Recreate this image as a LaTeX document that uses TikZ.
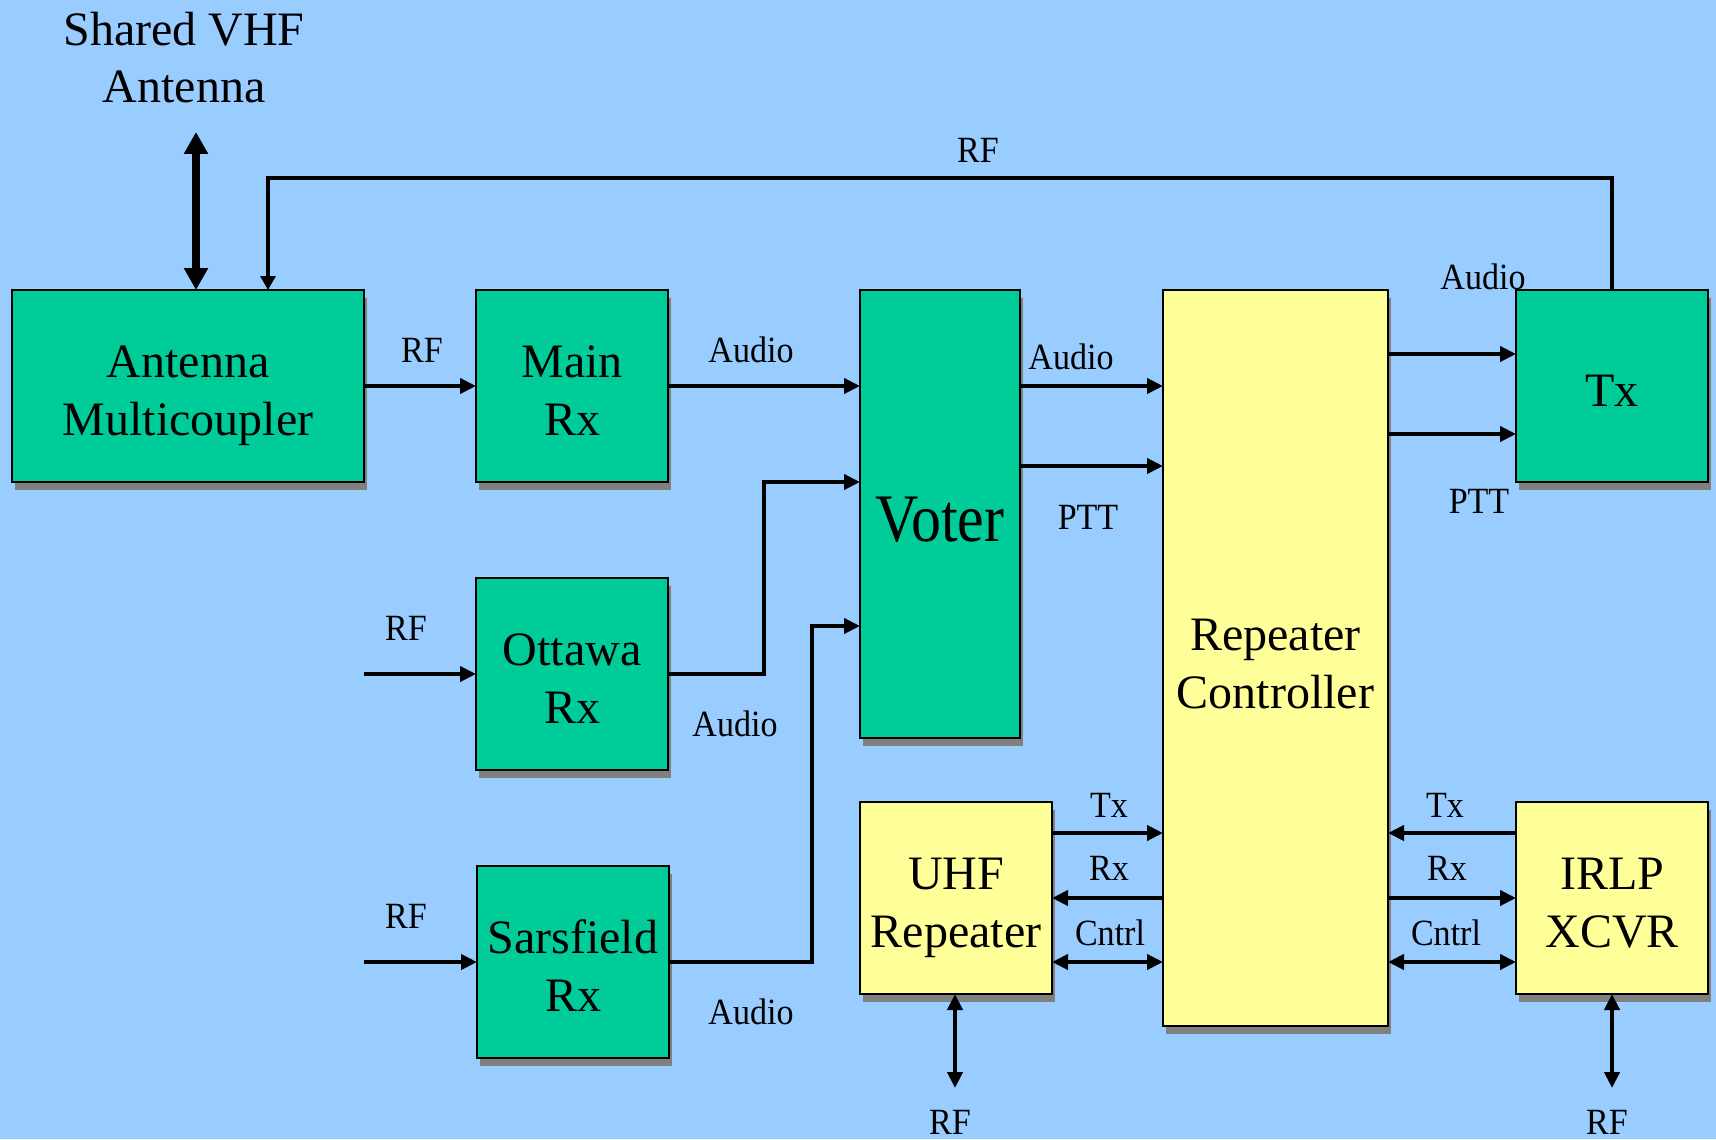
\documentclass[tikz,border=0pt]{standalone}
\usepackage{fontspec}
\setmainfont{Liberation Serif}
\newfontfamily\lblfont[FakeStretch=0.92]{Liberation Serif}
\newfontfamily\voterfont[FakeStretch=0.88]{Liberation Serif}
\usetikzlibrary{arrows.meta,shadows}
\definecolor{bgblue}{HTML}{99CCFF}
\definecolor{boxgreen}{HTML}{00CC99}
\definecolor{boxyellow}{HTML}{FFFF99}
\definecolor{shadowgray}{HTML}{808080}
\newcommand\boxtext[2][4.4pt]{\raisebox{-#1}[\height][\depth]{\begin{tabular}{@{}c@{}}#2\end{tabular}}}
\newcommand\lowtext[2]{\raisebox{-#1}[\height][\depth]{#2}}
\tikzset{
  box/.style={draw=black, line width=1.3pt, inner sep=0pt, outer sep=0pt,
    font=\fontsize{24}{29}\selectfont,
    drop shadow={shadow xshift=1.6pt, shadow yshift=-4pt, fill=shadowgray, opacity=1}},
  gbox/.style={box, fill=boxgreen},
  ybox/.style={box, fill=boxyellow},
  sq/.style={minimum width=96pt, minimum height=96pt},
  conn/.style={line width=2.2pt, -{Triangle[length=8pt,width=7.5pt]}},
  bconn/.style={line width=2.2pt, {Triangle[length=8pt,width=7.5pt]}-{Triangle[length=8pt,width=7.5pt]}},
  lbl/.style={font=\lblfont\fontsize{18.5}{20}\selectfont, inner sep=0pt},
}
\begin{document}
\begin{tikzpicture}[x=0.5pt, y=-0.5pt]
\fill[bgblue] (0,0) rectangle (1716,1139);
\useasboundingbox (0,0) rectangle (1716,1139);

% boxes
\node[gbox, minimum width=176pt, minimum height=96pt] (amc) at (188,386) {\boxtext{Antenna\\Multicoupler}};
\node[gbox, sq] (mainrx) at (572,386) {\boxtext{Main\\Rx}};
\node[gbox, sq] (ottawa) at (572,674) {\boxtext{Ottawa\\Rx}};
\node[gbox, sq] (sars) at (573,962) {\boxtext{Sarsfield\\Rx}};
\node[gbox, minimum width=80pt, minimum height=224pt, font=\voterfont\fontsize{34}{40}\selectfont] (voter) at (940,514) {\lowtext{2.7pt}{Voter}};
\node[ybox, minimum width=112.5pt, minimum height=368pt] (rc) at (1275.5,658) {\boxtext[4.7pt]{Repeater\\Controller}};
\node[gbox, sq] (tx) at (1612,386) {\lowtext{2.2pt}{Tx}};
\node[ybox, sq] (uhf) at (956,898) {\boxtext[4.2pt]{UHF\\Repeater}};
\node[ybox, sq] (irlp) at (1612,898) {\boxtext[4.2pt]{IRLP\\XCVR}};

% antenna
\node[align=center, font=\fontsize{24}{28.5}\selectfont, inner sep=0pt] (anttext) at (184,58) {Shared VHF\\Antenna};
\coordinate (antTop) at (196,132);
\draw[line width=3.8pt, {Triangle[length=11pt,width=11.5pt]}-{Triangle[length=11pt,width=11.5pt]}] (antTop) -- (antTop |- amc.north);

% RF feedback from Tx to multicoupler
\coordinate (rfcorner) at (268,178);
\draw[line width=1.6pt, -{Triangle[length=7pt,width=7.5pt]}] (tx.north) |- (rfcorner) -- (rfcorner |- amc.north);
\node[lbl] (rftoplbl) at (978,150) {RF};

% multicoupler -> main rx -> voter
\draw[conn] (amc.east) -- (mainrx.west);
\node[lbl] (rf1) at (422,350) {RF};
\draw[conn] (mainrx.east) -- (mainrx.east -| voter.west);
\node[lbl] (au1) at (751,350) {Audio};

% ottawa
\coordinate (rfin2) at (364,674);
\draw[conn] (rfin2) -- (ottawa.west);
\node[lbl] (rf2) at (406,628) {RF};
\draw[conn] (ottawa.east) -- (764,674) |- (voter.west |- 0,482);
\node[lbl] (au2) at (735,724) {Audio};

% sarsfield
\coordinate (rfin3) at (364,962);
\draw[conn] (rfin3) -- (sars.west);
\node[lbl] (rf3) at (406,916) {RF};
\draw[conn] (sars.east) -- (812,962) |- (voter.west |- 0,626);
\node[lbl] (au3) at (751,1012) {Audio};

% voter -> controller
\draw[conn] (voter.east |- 0,386) -- (rc.west |- 0,386);
\draw[conn] (voter.east |- 0,466) -- (rc.west |- 0,466);
\node[lbl] (au4) at (1071,357) {Audio};
\node[lbl] (ptt1) at (1088,517) {PTT};

% controller -> tx
\draw[conn] (rc.east |- 0,354) -- (tx.west |- 0,354);
\draw[conn] (rc.east |- 0,434) -- (tx.west |- 0,434);
\node[lbl] (au5) at (1483,277) {Audio};
\node[lbl] (ptt2) at (1479,501) {PTT};

% UHF repeater
\draw[conn] (uhf.east |- 0,833) -- (rc.west |- 0,833);
\draw[conn] (rc.west |- 0,898) -- (uhf.east |- 0,898);
\draw[bconn] (uhf.east |- 0,962) -- (rc.west |- 0,962);
\node[lbl] (utx) at (1109,805) {Tx};
\node[lbl] (urx) at (1109,868) {Rx};
\node[lbl] (uctl) at (1110,933) {Cntrl};
\coordinate (uhfrf) at (955,1088);
\draw[bconn] (uhf.south -| uhfrf) -- (uhfrf);
\node[lbl] (rf4) at (950,1122) {RF};

% IRLP
\draw[conn] (irlp.west |- 0,833) -- (rc.east |- 0,833);
\draw[conn] (rc.east |- 0,898) -- (irlp.west |- 0,898);
\draw[bconn] (rc.east |- 0,962) -- (irlp.west |- 0,962);
\node[lbl] (itx) at (1445,805) {Tx};
\node[lbl] (irx) at (1447,868) {Rx};
\node[lbl] (ictl) at (1446,933) {Cntrl};
\coordinate (irlprf) at (1612,1088);
\draw[bconn] (irlp.south) -- (irlprf);
\node[lbl] (rf5) at (1607,1122) {RF};
\end{tikzpicture}
\end{document}
